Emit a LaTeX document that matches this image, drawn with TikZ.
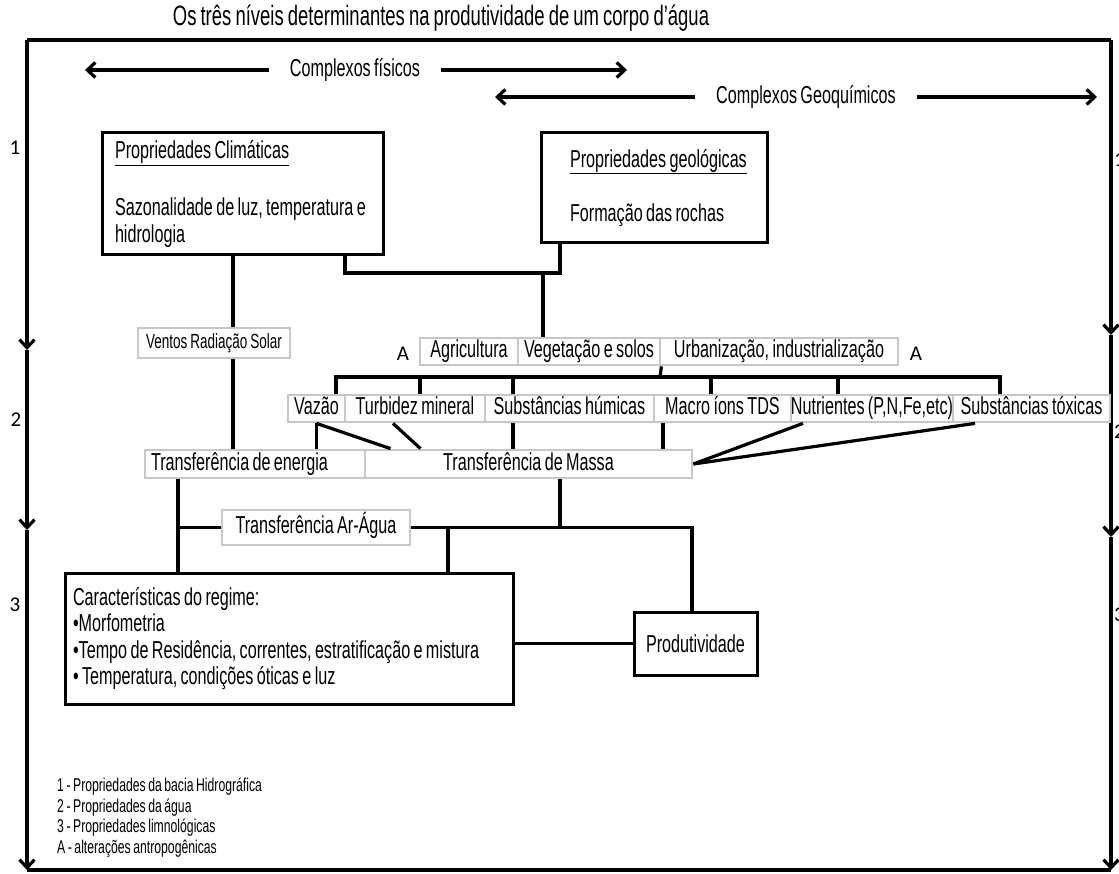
\documentclass[tikz,border=0pt]{standalone}
\usepackage{fontspec}
\setmainfont[FakeStretch=0.66, WordSpace=0.75]{Liberation Sans}
\newfontfamily\ttlfont[FakeStretch=0.66, WordSpace=0.8]{Liberation Sans}
\newfontfamily\calib{Carlito}
\usetikzlibrary{arrows.meta}
\newcommand\fA{\fontsize{24.5}{26.5}\selectfont}
\newcommand\fT{\ttlfont\fontsize{28}{30}\selectfont}
\newcommand\fV{\fontsize{20.5}{22}\selectfont}
\newcommand\fL{\fontsize{18.5}{20.5}\selectfont}
\newcommand\fN{\calib\fontsize{21}{24}\selectfont}
\begin{document}
\begin{tikzpicture}[x=1pt,y=-1pt,
  blk/.style={draw=black, line width=3pt, fill=white, inner sep=0pt, font=\fA},
  gbox/.style={draw=black!22, line width=2.8pt, fill=white, inner sep=0pt, font=\fA,
    minimum height=27pt, text height=17pt, text depth=5pt},
  conn/.style={draw=black, line width=3.2pt},
  tip/.style={conn, -{Straight Barb[length=8pt,width=15pt]}},
  both/.style={conn, {Straight Barb[length=8pt,width=15pt]}-{Straight Barb[length=8pt,width=15pt]}},
  lbl/.style={fill=white, inner sep=0pt, font=\fA},
  num/.style={inner sep=0pt, font=\fN}]
\useasboundingbox (0,0) rectangle (1119,874);

% title
\node[inner sep=0pt, font=\fT] (title) at (441,18) {Os três níveis determinantes na produtividade de um corpo d’água};

% frame
\coordinate (tl) at (27,40);  \coordinate (tr) at (1111,40);
\coordinate (bl) at (27,870); \coordinate (br) at (1111,870);
\coordinate (la1) at (27,350); \coordinate (la2) at (27,530);
\coordinate (ra1) at (1111,335); \coordinate (ra2) at (1111,537);
\draw[conn] (tl) -- (tr);
\draw[conn] (bl) -- (br);
\draw[tip] (tl) -- (la1);
\draw[tip] (la1) -- (la2);
\draw[tip] (la2) -- (bl);
\draw[tip] (tr) -- (ra1);
\draw[tip] (ra1) -- (ra2);
\draw[tip] (ra2) -- (br);
\node[num] (n1) at (15,148) {1};
\node[num] (n2) at (16,420) {2};
\node[num] (n3) at (15,605) {3};
\node[num, anchor=west] (r1) at (1114,160) {1};
\node[num, anchor=west] (r2) at (1114,432) {2};
\node[num, anchor=west] (r3) at (1114,615) {3};

% complexos
\coordinate (cf1) at (85,70); \coordinate (cf2) at (627,70);
\draw[both] (cf1) -- (cf2);
\node[lbl, inner xsep=21pt] (cf) at (355,70) {Complexos físicos};
\coordinate (cg1) at (495,97); \coordinate (cg2) at (1097,97);
\draw[both] (cg1) -- (cg2);
\node[lbl, inner xsep=21pt] (cg) at (806,97) {Complexos Geoquímicos};

% level 1 boxes
\node[blk, minimum width=281pt, minimum height=122pt, text width=281pt, align=flush left] (clim) at (242.5,194)
  {\hspace*{13pt}\underline{Propriedades Climáticas}\\[31pt]
   \hspace*{13pt}Sazonalidade de luz, temperatura e\\
   \hspace*{13pt}hidrologia};
\node[blk, minimum width=226pt, minimum height=110pt, text width=226pt, align=flush left] (geol) at (654,188)
  {\hspace*{29pt}\underline{Propriedades geológicas}\\[28pt]
   \hspace*{29pt}Formação das rochas};

% ventos
\node[gbox, font=\fV, minimum width=152pt, minimum height=30pt, text height=15pt, text depth=4pt] (vent) at (214,343) {Ventos Radiação Solar};

% anthropogenic row
\node[num] (a1) at (403,354) {A};
\node[gbox, minimum width=98pt] (agr) at (469,351.5) {Agricultura};
\node[gbox, minimum width=142pt] (veg) at (589,351.5) {Vegetação e solos};
\node[gbox, minimum width=238pt] (urb) at (779,351.5) {Urbanização, industrialização};
\node[num] (a2) at (916,354) {A};

% water properties row
\node[gbox, minimum width=57pt] (vaz) at (316.5,408.5) {Vazão};
\node[gbox, minimum width=140pt] (turb) at (415,408.5) {Turbidez mineral};
\node[gbox, minimum width=169pt] (hum) at (569.5,408.5) {Substâncias húmicas};
\node[gbox, minimum width=137pt] (mac) at (722.5,408.5) {Macro íons TDS};
\node[gbox, minimum width=162pt] (nut) at (872,408.5) {Nutrientes (P,N,Fe,etc)};
\node[gbox, minimum width=157pt] (tox) at (1031.5,408.5) {Substâncias tóxicas};

% transfers
\node[gbox, minimum width=220pt, minimum height=28pt, text width=220pt, align=flush left] (ene) at (255,464) {\hspace*{6pt}Transferência de energia};
\node[gbox, minimum width=327pt, minimum height=28pt] (mas) at (528.5,464) {Transferência de Massa};
\node[gbox, minimum width=188pt, minimum height=35pt] (ar) at (316,527.5) {Transferência Ar-Água};

% level 3
\node[blk, minimum width=448pt, minimum height=131pt, text width=448pt, align=flush left] (car) at (289,638.5)
  {\hspace*{8pt}Características do regime:\\
   \hspace*{8pt}•Morfometria\\
   \hspace*{8pt}•Tempo de Residência, correntes, estratificação e mistura\\
   \hspace*{8pt}• Temperatura, condições óticas e luz};
\node[blk, minimum width=123pt, minimum height=63pt] (prod) at (695.5,643.5) {Produtividade};

% connectors level 1
\coordinate (j1) at (543,273);
\draw[conn] ([xshift=102.5pt]clim.south) |- (j1) -| ([xshift=-94pt]geol.south);
\draw[conn] (j1) -- (j1 |- veg.north);
\draw[conn] ([xshift=-9.5pt]clim.south) -- ([xshift=19pt]vent.north);
\draw[conn] ([xshift=19pt]vent.south) -- ([xshift=19pt]vent.south |- ene.north);

% bus to water properties
\coordinate (bus) at (660,377);
\draw[conn] (veg.south east) -- (bus);
\draw[conn] (bus) -| ([xshift=19.5pt]vaz.north);
\draw[conn] (bus) -| ([xshift=5pt]turb.north);
\draw[conn] (bus) -| ([xshift=-56.5pt]hum.north);
\draw[conn] (bus) -| ([xshift=-11.5pt]mac.north);
\draw[conn] (bus) -| ([xshift=-34pt]nut.north);
\draw[conn] (bus) -| ([xshift=-31.5pt]tox.north);

% water properties to transfers
\draw[conn] (vaz.south) -- (vaz.south |- ene.north);
\draw[conn] (vaz.south) -- ([xshift=-138pt]mas.north);
\draw[conn] ([xshift=-22pt]turb.south) -- ([xshift=-108pt]mas.north);
\draw[conn] ([xshift=-56.5pt]hum.south) -- ([xshift=-56.5pt]hum.south |- mas.north);
\draw[conn] ([xshift=-59.5pt]mac.south) -- ([xshift=-59.5pt]mac.south |- mas.north);
\draw[conn] ([xshift=-69pt]nut.south) -- (mas.east);
\draw[conn] ([xshift=-56.5pt]tox.south) -- (mas.east);

% transfers to level 3
\coordinate (j2) at (560,527.5);
\coordinate (j3) at (448,527.5);
\draw[conn] ([xshift=-77pt]ene.south) -- ([xshift=-77pt]ene.south |- car.north);
\draw[conn] ([xshift=-77pt]ene.south |- ar.west) -- (ar.west);
\draw[conn] ([xshift=31.5pt]mas.south) -- (j2);
\draw[conn] (ar.east) -- (j2) -| ([xshift=-3.5pt]prod.north);
\draw[conn] (j3) -- (j3 |- car.north);
\draw[conn] (prod.west) -- (prod.west -| car.east);

% legend
\node[inner sep=0pt, font=\fL, align=flush left, anchor=north west] (leg) at (57,778)
  {1 - Propriedades da bacia Hidrográfica\\
   2 - Propriedades da água\\
   3 - Propriedades limnológicas\\
   A - alterações antropogênicas};
\end{tikzpicture}
\end{document}
